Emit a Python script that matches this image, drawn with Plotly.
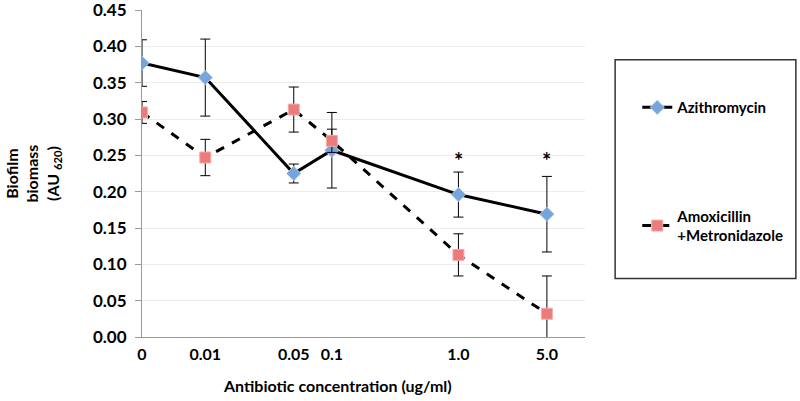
import math
import plotly.graph_objects as go

# concentrations (ug/ml); "0" is drawn at the left end of the log axis
conc_labels = ["0", "0.01", "0.05", "0.1", "1.0", "5.0"]
conc_x = [10 ** -2.5, 0.01, 0.05, 0.1, 1.0, 5.0]

azi = [0.377, 0.357, 0.225, 0.257, 0.196, 0.169]
azi_err = [0.032, 0.053, 0.013, 0.052, 0.031, 0.052]

amx = [0.309, 0.247, 0.313, 0.270, 0.113, 0.032]
amx_err = [0.015, 0.025, 0.031, 0.016, 0.029, 0.052]

star_x = [1.0, 5.0]
star_y = [0.243, 0.243]

y_ticks = [0, 0.05, 0.10, 0.15, 0.20, 0.25, 0.30, 0.35, 0.40, 0.45]

FONT = "Lato"
BOLD = dict(family=FONT, color="black", weight="bold")

fig = go.Figure()
fig.add_trace(go.Scatter(
    x=conc_x, y=azi, name="Azithromycin", mode="lines+markers",
    legendgroup="a",
    line=dict(color="black", width=3),
    marker=dict(symbol="diamond", size=11, color="#76a5dc",
                line=dict(color="#a9c6ea", width=1)),
    error_y=dict(type="data", array=azi_err, color="black", thickness=1, width=5),
))
fig.add_trace(go.Scatter(
    x=conc_x, y=amx, name="Amoxicillin<br>+Metronidazole", mode="lines+markers",
    legendgroup="b",
    line=dict(color="black", width=3, dash="dash"),
    marker=dict(symbol="square", size=11, color="#ec7b7b",
                line=dict(color="#f4aaaa", width=1)),
    error_y=dict(type="data", array=amx_err, color="black", thickness=1, width=5),
))

for sx, sy in zip(star_x, star_y):
    fig.add_annotation(x=math.log10(sx), y=sy, xref="x", yref="y", text="*",
                       showarrow=False, font=dict(size=22, **BOLD))

# y title (rotated, three lines)
fig.add_annotation(x=-0.246, y=0.5, xref="paper", yref="paper", textangle=-90,
                   xanchor="center", yanchor="middle",
                   text="Biofilm<br>biomass<br>(AU <sub>620</sub>)",
                   showarrow=False, font=dict(size=16, **BOLD))

# x title, sits a bit left of the plot centre like the original
fig.add_annotation(x=0.442, y=-0.147, xref="paper", yref="paper",
                   xanchor="center", yanchor="middle",
                   text="Antibiotic concentration (ug/ml)",
                   showarrow=False, font=dict(size=16, **BOLD))

# legend frame
fig.add_shape(type="rect", xref="paper", yref="paper",
              x0=1.068, x1=1.476, y0=0.179, y1=0.848,
              line=dict(color="#333333", width=1.5), fillcolor="white", layer="below")

fig.update_layout(
    width=800, height=401,
    margin=dict(l=142, r=215, t=10, b=64),
    plot_bgcolor="white", paper_bgcolor="white",
    font=dict(size=16, **BOLD),
    showlegend=True,
    legend=dict(x=1.118, y=0.752, xanchor="left", yanchor="top",
                bgcolor="rgba(0,0,0,0)", borderwidth=0,
                tracegroupgap=86, font=dict(size=15, **BOLD)),
    xaxis=dict(type="log", range=[-2.5, 1], tickvals=conc_x, ticktext=conc_labels,
               showgrid=False, showline=True, linecolor="#999999", linewidth=1,
               ticks="", ticklabelstandoff=3, tickfont=dict(size=16, **BOLD),
               automargin=False, zeroline=False),
    yaxis=dict(range=[0, 0.45], tickvals=y_ticks, tickformat=".2f",
               showgrid=True, gridcolor="#ececec", gridwidth=1,
               showline=True, linecolor="#999999", linewidth=1,
               ticks="outside", ticklen=6, tickcolor="#999999", ticklabelstandoff=5,
               ticklabeloverflow="allow",
               tickfont=dict(size=17, **BOLD), zeroline=False, automargin=False),
)

fig.write_html(
    "out.html", config={"displayModeBar": False},
    post_script="document.body.style.margin='0';"
                "document.body.style.overflow='hidden';"
                "document.documentElement.style.overflow='hidden';")
